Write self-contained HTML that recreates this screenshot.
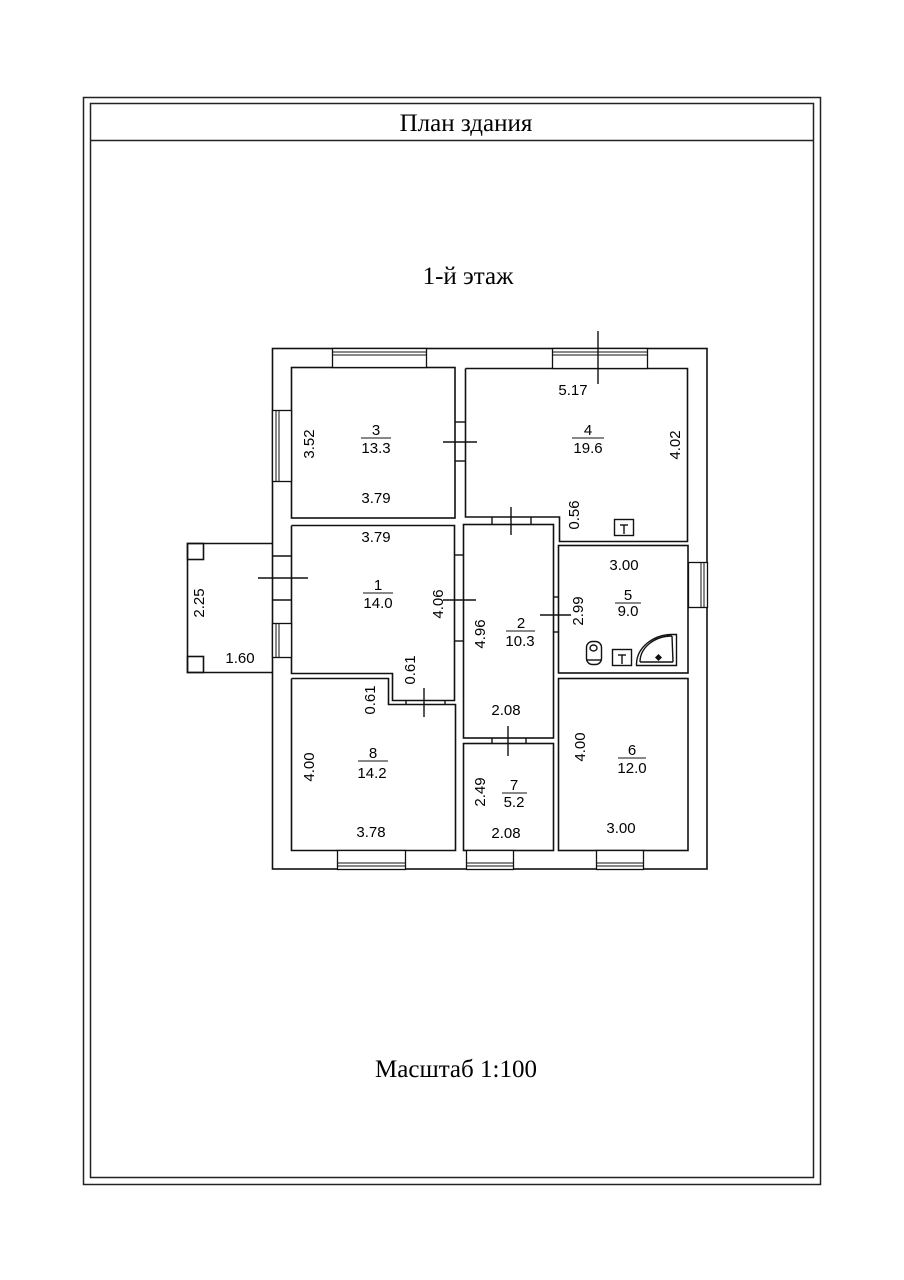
<!DOCTYPE html>
<html><head><meta charset="utf-8"><style>
html,body{margin:0;padding:0;background:#fff;}
svg{display:block}
.d{font-family:"Liberation Sans",sans-serif;font-size:15px;fill:#000;}
.t{font-family:"Liberation Serif",serif;font-size:25px;fill:#000;}
</style></head><body>
<svg width="904" height="1280" viewBox="0 0 904 1280" xmlns="http://www.w3.org/2000/svg">
<g fill="none" stroke="#222" stroke-width="1.5">
<rect x="83.5" y="97.5" width="737" height="1087"/>
<rect x="90.5" y="103.5" width="723" height="1074"/>
<line x1="90" y1="140.5" x2="813" y2="140.5"/>
</g>
<text class="t" x="466" y="131" text-anchor="middle">План здания</text>
<text class="t" x="468" y="284" text-anchor="middle">1-й этаж</text>
<text class="t" x="456" y="1077" text-anchor="middle">Масштаб 1:100</text>

<g fill="none" stroke="#111" stroke-width="1.6">
<rect x="272.5" y="348.5" width="434.5" height="520.5"/>
<polyline points="272,543.5 187.5,543.5 187.5,672.5 272,672.5"/>
<rect x="187.5" y="543.5" width="16" height="16"/>
<rect x="187.5" y="656.5" width="16" height="16"/>
<rect x="291.5" y="367.5" width="163.5" height="150.5"/>
<polyline points="465.5,368.5 687.5,368.5 687.5,541.5 559.5,541.5 559.5,517 465.5,517 465.5,368.5"/>
<polyline points="291.5,525.5 454.5,525.5 454.5,700.5 392.5,700.5 392.5,673.5 291.5,673.5 291.5,525.5"/>
<polyline points="291.5,678.5 388.5,678.5 388.5,704.5 455.5,704.5 455.5,850.5 291.5,850.5 291.5,678.5"/>
<rect x="463.5" y="524.5" width="90" height="213.5"/>
<rect x="463.5" y="743.5" width="90" height="107"/>
<rect x="558.5" y="545.5" width="129.5" height="127.5"/>
<rect x="558.5" y="678.5" width="129.5" height="172"/>
</g>

<g fill="#fff" stroke="#111" stroke-width="1.3">
<rect x="332.5" y="348.5" width="94" height="19"/>
<rect x="552.5" y="348.5" width="95" height="20"/>
<rect x="337.5" y="850.5" width="68" height="19"/>
<rect x="466.5" y="850.5" width="47" height="19"/>
<rect x="596.5" y="850.5" width="47" height="19"/>
<rect x="272.5" y="410.5" width="19" height="71"/>
<rect x="272.5" y="623.5" width="19" height="34"/>
<rect x="688.5" y="562.5" width="19" height="45"/>
</g>
<g stroke="#111" stroke-width="1">
<line x1="332" y1="352" x2="426" y2="352"/><line x1="332" y1="355" x2="426" y2="355"/>
<line x1="552" y1="352" x2="647" y2="352"/><line x1="552" y1="355" x2="647" y2="355"/>
<line x1="337" y1="863" x2="405" y2="863"/><line x1="337" y1="866" x2="405" y2="866"/>
<line x1="466" y1="863" x2="513" y2="863"/><line x1="466" y1="866" x2="513" y2="866"/>
<line x1="596" y1="863" x2="643" y2="863"/><line x1="596" y1="866" x2="643" y2="866"/>
<line x1="276" y1="410" x2="276" y2="481"/><line x1="279" y1="410" x2="279" y2="481"/>
<line x1="276" y1="623" x2="276" y2="657"/><line x1="279" y1="623" x2="279" y2="657"/>
<line x1="701" y1="562" x2="701" y2="607"/><line x1="704" y1="562" x2="704" y2="607"/>
</g>

<g stroke="#111" stroke-width="1.4" fill="none">
<line x1="455" y1="422" x2="465" y2="422"/><line x1="455" y1="461" x2="465" y2="461"/>
<line x1="443" y1="442" x2="477" y2="442"/>
<line x1="272" y1="556" x2="291" y2="556"/><line x1="272" y1="600" x2="291" y2="600"/>
<line x1="258" y1="578" x2="308" y2="578"/>
<line x1="455" y1="555" x2="463" y2="555"/><line x1="455" y1="641" x2="463" y2="641"/>
<line x1="443" y1="600" x2="476" y2="600"/>
<line x1="492" y1="517" x2="492" y2="524"/><line x1="531" y1="517" x2="531" y2="524"/>
<line x1="511" y1="507" x2="511" y2="535"/>
<line x1="553" y1="597" x2="558" y2="597"/><line x1="553" y1="632" x2="558" y2="632"/>
<line x1="540" y1="615" x2="571" y2="615"/>
<line x1="406" y1="700" x2="406" y2="704"/><line x1="445" y1="700" x2="445" y2="704"/>
<line x1="424" y1="688" x2="424" y2="717"/>
<line x1="492" y1="738" x2="492" y2="743"/><line x1="526" y1="738" x2="526" y2="743"/>
<line x1="508" y1="726" x2="508" y2="756"/>
<line x1="598" y1="331" x2="598" y2="384"/>
<rect x="614.5" y="519.5" width="19" height="16"/>
<line x1="620" y1="525" x2="628" y2="525"/><line x1="624" y1="525" x2="624" y2="534"/>
<rect x="612.5" y="649.5" width="19" height="16"/>
<line x1="618" y1="655" x2="626" y2="655"/><line x1="622" y1="655" x2="622" y2="664"/>
<rect x="586.5" y="641.5" width="15" height="23" rx="6"/>
<ellipse cx="593.5" cy="648" rx="3.5" ry="3"/>
<line x1="587" y1="660" x2="601" y2="660"/>
<path d="M636.5,665.5 L676.5,665.5 L676.5,634.5 L672,634.5 A36,30 0 0 0 636.5,664 Z"/>
<path d="M640,662 A32,26 0 0 1 672,636"/>
<line x1="672" y1="636" x2="673" y2="662"/><line x1="640" y1="662" x2="673" y2="662"/>
</g>
<rect x="656" y="655" width="5" height="5" transform="rotate(45 658.5 657.5)" fill="#111"/>

<g class="d" text-anchor="middle">
<text x="376" y="435">3</text><line x1="361" y1="438" x2="391" y2="438" stroke="#111"/>
<text x="376" y="453">13.3</text>
<text x="376" y="503">3.79</text>
<text x="376" y="542">3.79</text>
<text x="378" y="590">1</text><line x1="363" y1="593" x2="393" y2="593" stroke="#111"/>
<text x="378" y="608">14.0</text>
<text x="588" y="435">4</text><line x1="572" y1="438" x2="604" y2="438" stroke="#111"/>
<text x="588" y="453">19.6</text>
<text x="573" y="395">5.17</text>
<text x="624" y="570">3.00</text>
<text x="628" y="600">5</text><line x1="615" y1="603" x2="641" y2="603" stroke="#111"/>
<text x="628" y="616">9.0</text>
<text x="521" y="628">2</text><line x1="506" y1="631" x2="535" y2="631" stroke="#111"/>
<text x="520" y="646">10.3</text>
<text x="506" y="715">2.08</text>
<text x="506" y="838">2.08</text>
<text x="514" y="790">7</text><line x1="502" y1="793" x2="527" y2="793" stroke="#111"/>
<text x="514" y="807">5.2</text>
<text x="632" y="755">6</text><line x1="618" y1="758" x2="646" y2="758" stroke="#111"/>
<text x="632" y="773">12.0</text>
<text x="621" y="833">3.00</text>
<text x="373" y="758">8</text><line x1="358" y1="761" x2="388" y2="761" stroke="#111"/>
<text x="372" y="778">14.2</text>
<text x="371" y="837">3.78</text>
<text x="240" y="663">1.60</text>
<text transform="translate(314,444) rotate(-90)">3.52</text>
<text transform="translate(680,445) rotate(-90)">4.02</text>
<text transform="translate(579,515) rotate(-90)">0.56</text>
<text transform="translate(443,604) rotate(-90)">4.06</text>
<text transform="translate(485,634) rotate(-90)">4.96</text>
<text transform="translate(583,611) rotate(-90)">2.99</text>
<text transform="translate(415,670) rotate(-90)">0.61</text>
<text transform="translate(375,700) rotate(-90)">0.61</text>
<text transform="translate(314,767) rotate(-90)">4.00</text>
<text transform="translate(585,747) rotate(-90)">4.00</text>
<text transform="translate(485,792) rotate(-90)">2.49</text>
<text transform="translate(204,603) rotate(-90)">2.25</text>
</g>
</svg>
</body></html>
